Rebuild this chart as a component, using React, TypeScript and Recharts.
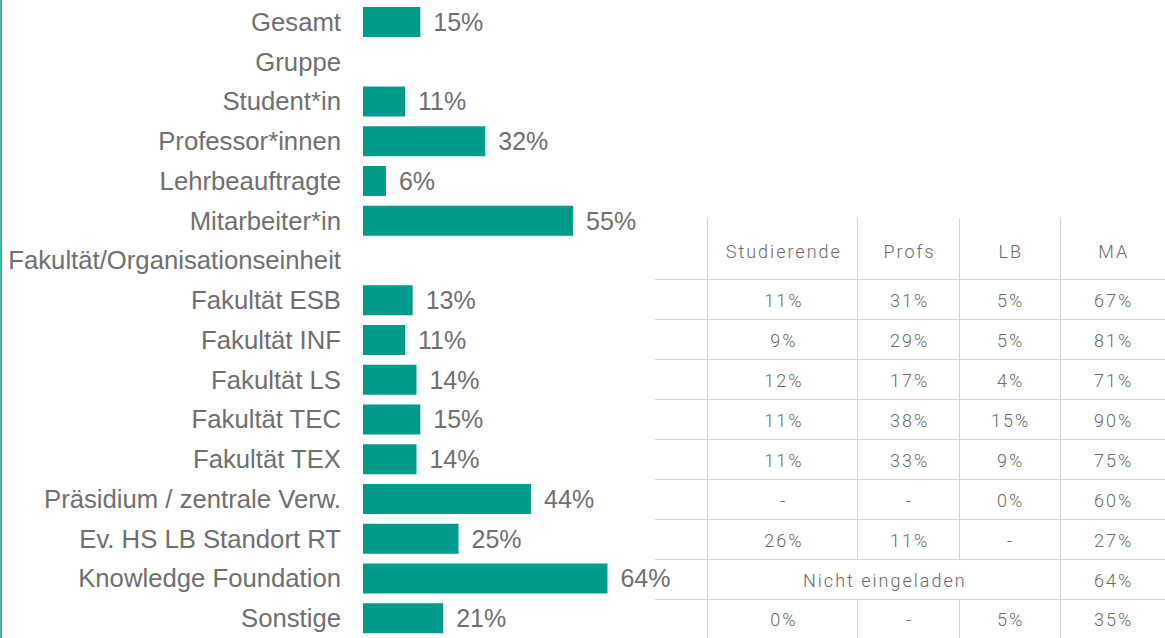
import { BarChart, Bar, XAxis, YAxis, LabelList } from "recharts";

const categories = [
  "Gesamt",
  "Gruppe",
  "Student*in",
  "Professor*innen",
  "Lehrbeauftragte",
  "Mitarbeiter*in",
  "Fakultät/Organisationseinheit",
  "Fakultät ESB",
  "Fakultät INF",
  "Fakultät LS",
  "Fakultät TEC",
  "Fakultät TEX",
  "Präsidium / zentrale Verw.",
  "Ev. HS LB Standort RT",
  "Knowledge Foundation",
  "Sonstige",
];

const values: (number | null)[] = [15, null, 11, 32, 6, 55, null, 13, 11, 14, 15, 14, 44, 25, 64, 21];

// side table (one row per unit, ESB .. Sonstige)
const tableHeaders = ["Studierende", "Profs", "LB", "MA"];
const studierende = ["11%", "9%", "12%", "11%", "11%", "-", "26%", null, "0%"];
const profs = ["31%", "29%", "17%", "38%", "33%", "-", "11%", null, "-"];
const lb = ["5%", "5%", "4%", "15%", "9%", "0%", "-", null, "5%"];
const ma = ["67%", "81%", "71%", "90%", "75%", "60%", "27%", "64%", "35%"];
const mergedText = "Nicht eingeladen";

const data = categories.map((name, i) => ({ name, value: values[i] }));

const teal = "#009b8a";
const grey = "#6f6f6f";
const line = "1.5px solid #d3d3d3";
const colWidths = [53, 149, 101, 101, 106];

export default function App() {
  const cell = (i: number, last: boolean): React.CSSProperties => ({
    width: colWidths[i],
    borderLeft: i > 0 ? line : "none",
    borderBottom: last ? "none" : line,
    textAlign: "center",
    padding: 0,
    paddingTop: 2,
    paddingLeft: 2,
  });

  return (
    <div
      style={{
        position: "absolute",
        left: 0,
        top: 0,
        width: 1165,
        height: 638,
        background: "#fff",
        borderLeft: "2px solid #3ab5a7",
        boxSizing: "border-box",
        overflow: "hidden",
      }}
    >
      <div style={{ position: "absolute", left: -2, top: 0 }}>
        <BarChart
          width={1165}
          height={638}
          data={data}
          layout="vertical"
          margin={{ top: 2, right: 420, bottom: 0, left: 0 }}
        >
          <XAxis type="number" domain={[0, 100]} hide />
          <YAxis
            type="category"
            dataKey="name"
            width={363}
            interval={0}
            tickLine={false}
            axisLine={false}
            tickSize={0}
            tickMargin={22}
            tick={{ fill: grey, fontSize: 25.7, fontFamily: "Liberation Sans, Arial, sans-serif" }}
          />
          <Bar dataKey="value" fill={teal} barSize={30} isAnimationActive={false}>
            <LabelList
              dataKey="value"
              position="right"
              offset={13}
              formatter={(v: any) => (v == null ? "" : `${v}%`)}
              style={{ fill: grey, fontSize: 25, fontFamily: "Liberation Sans, Arial, sans-serif" }}
            />
          </Bar>
        </BarChart>
      </div>

      <table
        style={{
          position: "absolute",
          left: 653,
          top: 218,
          borderCollapse: "collapse",
          tableLayout: "fixed",
          fontFamily: "Roboto, sans-serif",
          fontWeight: 300,
          fontSize: 18,
          letterSpacing: 2,
          color: "#6a6a6a",
        }}
      >
        <tbody>
          <tr style={{ height: 61 }}>
            <td style={cell(0, false)}></td>
            {tableHeaders.map((h, i) => (
              <td key={h} style={{ ...cell(i + 1, false), paddingTop: 6 }}>
                {h}
              </td>
            ))}
          </tr>
          {ma.map((m, r) => {
            const last = r === ma.length - 1;
            return (
              <tr key={r} style={{ height: last ? 39 : 40 }}>
                <td style={cell(0, last)}></td>
                {studierende[r] == null ? (
                  <td colSpan={3} style={{ ...cell(1, last), width: undefined }}>
                    {mergedText}
                  </td>
                ) : (
                  <>
                    <td style={cell(1, last)}>{studierende[r]}</td>
                    <td style={cell(2, last)}>{profs[r]}</td>
                    <td style={cell(3, last)}>{lb[r]}</td>
                  </>
                )}
                <td style={cell(4, last)}>{m}</td>
              </tr>
            );
          })}
        </tbody>
      </table>
    </div>
  );
}
